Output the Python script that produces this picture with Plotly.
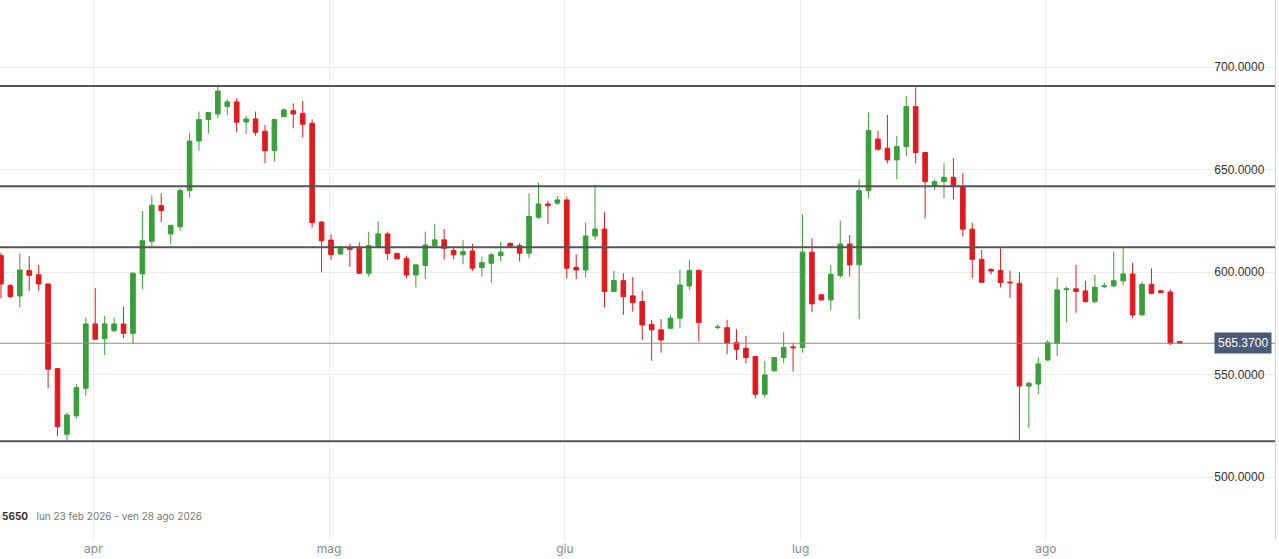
import plotly.graph_objects as go

# Daily candles (one slot per session, slot 75 is a gap).
open_px = [
    608.1, 593.5, 588.4, 600.8, 598.8, 594.3, 553.0, 521.0, 530.0, 543.4,
    574.8, 567.6, 571.5, 574.8, 570.2, 599.2, 615.1, 632.5, 618.7, 622.2,
    639.8, 664.0, 674.5, 677.2, 680.8, 683.1, 673.3, 674.8, 668.8, 659.3,
    675.9, 678.8, 677.5, 672.7, 624.5, 615.7, 608.9, 612.0, 611.7, 599.5,
    612.5, 618.7, 609.2, 606.8, 598.7, 603.3, 613.0, 615.8, 610.6, 608.5,
    610.4, 602.3, 604.4, 608.1, 614.1, 613.0, 609.3, 626.8, 633.3, 633.7,
    635.3, 602.4, 601.1, 617.7, 621.1, 590.6, 595.9, 588.5, 585.7, 574.6,
    571.9, 572.7, 577.6, 593.3, 600.8, None, 573.0, 573.0, 565.7, 562.9,
    558.9, 540.5, 551.9, 558.4, 563.6, 563.3, 609.8, 589.0, 586.5, 598.4,
    613.8, 603.6, 639.8, 665.0, 660.5, 654.8, 661.3, 680.8, 658.4, 642.1,
    644.2, 646.3, 641.8, 621.0, 606.3, 601.4, 600.8, 595.2, 594.6, 544.5,
    545.5, 557.2, 565.3, 591.6, 591.9, 590.9, 585.7, 593.0, 593.3, 595.8,
    599.2, 579.2, 594.1, 591.0, 590.4, 566.2,
]
high_px = [
    609.5, 594.2, 609.2, 607.9, 603.6, 594.5, 553.2, 531.6, 545.5, 578.0,
    592.3, 578.7, 578.0, 583.2, 600.0, 629.9, 637.5, 638.5, 622.9, 641.0,
    667.8, 678.4, 678.2, 691.4, 684.4, 684.9, 676.4, 678.4, 671.8, 674.8,
    680.0, 682.4, 683.6, 674.6, 624.8, 618.5, 613.0, 613.8, 614.6, 619.8,
    624.9, 619.8, 609.6, 608.1, 603.8, 619.8, 623.6, 621.1, 612.2, 615.8,
    613.8, 607.6, 609.3, 615.0, 614.6, 614.1, 638.5, 643.7, 635.0, 637.2,
    636.9, 608.8, 624.2, 642.6, 629.3, 600.7, 599.5, 597.6, 591.0, 576.8,
    577.2, 578.9, 601.1, 606.0, 601.5, None, 574.6, 576.8, 572.2, 568.9,
    559.2, 556.8, 558.6, 570.7, 565.4, 628.3, 616.6, 589.4, 603.6, 625.2,
    618.2, 645.3, 678.0, 669.1, 676.7, 666.5, 686.0, 690.2, 658.8, 645.3,
    653.1, 655.6, 648.3, 624.2, 610.9, 601.9, 611.7, 600.8, 600.0, 546.6,
    558.5, 567.0, 597.5, 593.0, 603.6, 595.8, 598.7, 595.0, 610.1, 612.0,
    604.7, 595.4, 601.9, 591.3, 591.7, 566.5,
]
low_px = [
    587.3, 587.3, 582.9, 591.0, 591.0, 543.4, 520.1, 517.7, 528.8, 539.7,
    567.0, 559.6, 571.0, 567.8, 564.9, 591.8, 611.7, 624.4, 613.6, 620.3,
    636.4, 659.3, 667.8, 675.1, 676.6, 668.3, 667.5, 666.6, 653.1, 654.0,
    675.6, 670.2, 665.8, 621.8, 600.0, 606.0, 608.6, 602.7, 599.2, 597.9,
    611.7, 606.0, 606.2, 597.0, 592.6, 596.7, 612.5, 606.3, 606.3, 603.9,
    600.7, 597.9, 595.0, 605.5, 612.2, 605.2, 606.8, 626.0, 623.4, 632.8,
    597.1, 596.7, 597.4, 615.8, 582.9, 590.4, 579.2, 580.8, 567.0, 556.9,
    560.8, 572.5, 572.7, 591.4, 566.2, None, 572.2, 560.0, 557.2, 555.6,
    538.5, 538.9, 551.6, 555.6, 551.6, 560.8, 580.5, 586.2, 581.6, 597.1,
    597.9, 577.0, 636.1, 659.3, 653.1, 645.3, 656.7, 653.1, 626.3, 640.1,
    636.1, 635.6, 617.4, 597.1, 594.8, 599.0, 592.7, 587.3, 518.2, 523.9,
    540.5, 556.9, 559.2, 575.6, 580.3, 585.2, 584.9, 592.2, 592.7, 593.5,
    577.5, 578.9, 589.2, 589.8, 564.5, 565.1,
]
close_px = [
    594.3, 588.2, 601.1, 598.5, 594.3, 552.7, 524.7, 530.4, 543.7, 574.8,
    567.3, 574.8, 574.8, 570.2, 599.5, 615.4, 632.7, 630.1, 622.9, 639.8,
    664.0, 674.5, 677.9, 688.4, 683.1, 673.2, 674.8, 668.3, 659.3, 674.5,
    679.2, 677.2, 672.2, 624.2, 615.4, 608.6, 611.7, 611.2, 599.5, 613.0,
    618.7, 609.2, 606.6, 598.7, 603.6, 613.3, 615.8, 611.7, 608.5, 610.1,
    602.0, 604.7, 608.5, 609.8, 612.8, 609.3, 627.2, 633.3, 632.5, 635.3,
    602.0, 601.1, 617.7, 621.1, 590.6, 596.0, 588.1, 585.2, 574.3, 571.9,
    567.0, 577.6, 593.8, 600.8, 575.5, None, 573.3, 565.4, 562.4, 558.4,
    540.5, 549.9, 558.4, 563.4, 563.2, 609.8, 584.6, 586.5, 599.0, 613.8,
    603.6, 639.8, 669.1, 660.0, 654.8, 661.3, 680.8, 658.4, 644.2, 644.2,
    646.3, 641.8, 621.0, 606.3, 595.1, 600.6, 595.0, 594.9, 544.5, 545.8,
    555.3, 565.7, 591.4, 591.9, 590.6, 585.7, 592.7, 593.4, 595.9, 599.2,
    579.2, 594.1, 589.7, 590.1, 565.3, 565.37,
]

# first session of each month and its label
month_starts = [10, 35, 60, 85, 111]
month_labels = ["apr", "mag", "giu", "lug", "ago"]

# horizontal support / resistance levels
levels = [690.9, 641.9, 612.2, 517.6]
last_price = 565.37

sessions = list(range(len(close_px)))

fig = go.Figure(go.Candlestick(
    x=sessions,
    open=open_px, high=high_px, low=low_px, close=close_px,
    increasing=dict(line=dict(color="#3a9e3a", width=1), fillcolor="#3a9e3a"),
    decreasing=dict(line=dict(color="#e01b1f", width=1), fillcolor="#e01b1f"),
    showlegend=False,
))

for lv in levels:
    fig.add_hline(y=lv, line=dict(color="#555555", width=2))
fig.add_hline(y=last_price, line=dict(color="#8c8c8c", width=1))

# price tag on the right
fig.add_annotation(
    x=1, xref="paper", xanchor="right", xshift=-3,
    y=last_price, yref="y", yanchor="middle",
    text=f"{last_price:.4f}", showarrow=False,
    font=dict(family="Liberation Sans, Arial", size=12, color="white"),
    bgcolor="#4b5a76", borderpad=3,
)

# period caption, bottom left
fig.add_annotation(
    x=0, xref="paper", xanchor="left", xshift=0,
    y=0.044, yref="paper", yanchor="middle",
    text="<b>5650</b>   <span style='color:#777777'>lun 23 feb 2026 - ven 28 ago 2026</span>",
    showarrow=False,
    font=dict(family="Inter, Liberation Sans", size=10, color="#333333"),
)

fig.update_layout(
    width=1279, height=559,
    margin=dict(l=0, r=4, t=0, b=19),
    paper_bgcolor="white", plot_bgcolor="white",
    xaxis=dict(
        range=[-0.1, 135.1],
        rangeslider=dict(visible=False),
        tickvals=[m - 0.2 for m in month_starts],
        ticktext=month_labels,
        showgrid=True, gridcolor="#ececec", gridwidth=1,
        zeroline=False, showline=False, ticks="",
        tickfont=dict(family="Inter, Liberation Sans", size=12, color="#8a8a8a"),
    ),
    yaxis=dict(
        side="right",
        range=[469.4, 732.8],
        tickvals=[500, 550, 600, 650, 700],
        tickformat=".4f",
        ticklabelposition="inside",
        ticklabelstandoff=10,
        showgrid=True, gridcolor="#ececec", gridwidth=1,
        zeroline=False,
        showline=True, linecolor="#d4d4d4", linewidth=1,
        tickfont=dict(family="Liberation Sans, Arial", size=12, color="#333333"),
    ),
)

# drop the page's default body margin so the figure sits at the window origin
fig.write_html(
    "out.html",
    config={"displayModeBar": False},
    post_script="document.body.style.margin='0';document.body.style.overflow='hidden';",
)
